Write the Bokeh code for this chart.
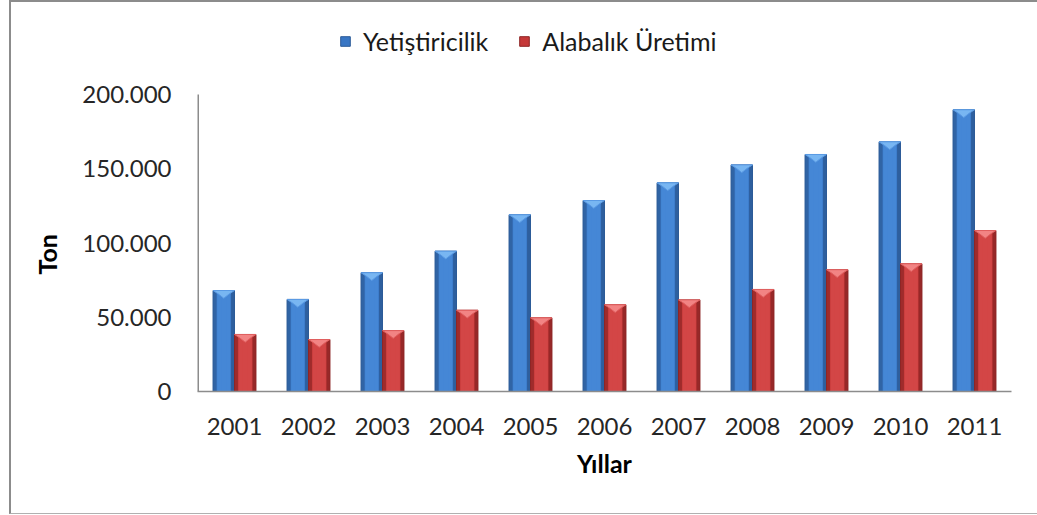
from bokeh.plotting import figure
from bokeh.models import (FactorRange, Range1d, FixedTicker, Legend, LegendItem,
                          ColumnDataSource, Title)
from bokeh.embed import file_html
from bokeh.resources import INLINE

years = ["2001", "2002", "2003", "2004", "2005", "2006", "2007", "2008", "2009", "2010", "2011"]
yetistiricilik = [68000, 62000, 80000, 94500, 119000, 128600, 140500, 152600, 159600, 168100, 189700]
alabalik = [38400, 35000, 41000, 54700, 49600, 58400, 61700, 68700, 82000, 86000, 108400]
y_ticks = [0, 50000, 100000, 150000, 200000]
y_tick_labels = ["0", "50.000", "100.000", "150.000", "200.000"]
series_names = ["Yetiştiricilik", "Alabalık Üretimi"]

FONT = "Lato"

# layout (pixels): the frame extends above the value axis so the legend fits inside it
FRAME_W, FRAME_H, AXIS_H = 814, 385, 297
y_end = y_ticks[-1] * FRAME_H / AXIS_H

p = figure(frame_width=FRAME_W, frame_height=FRAME_H, output_backend="svg", toolbar_location=None,
           x_range=FactorRange(*years, range_padding=0), y_range=Range1d(0, y_end),
           min_border_left=0, min_border_right=26, min_border_top=4, min_border_bottom=122)
p.styles = {"margin-left": "9px", "border-left": "2px solid #8c8c8c",
            "border-top": "2px solid #8c8c8c", "border-bottom": "1px solid #b0b0b0"}
p.outline_line_color = None
p.xgrid.grid_line_color = None
p.ygrid.grid_line_color = None
p.background_fill_color = "white"
p.border_fill_color = "white"

bar_w = 0.29
palettes = [
    dict(edge="#2d5c98", mid="#3876c4", hi="#4587d6", bevel="#78b6f2", bevel2="#5b9be4"),
    dict(edge="#8e2626", mid="#c53838", hi="#d34646", bevel="#f28484", bevel2="#e06060"),
]
bevel_h = 5200

legend_items = []
for k, (vals, pal) in enumerate(zip([yetistiricilik, alabalik], palettes)):
    off = (k - 0.5) * bar_w
    xs_num = [i + 0.5 + off for i in range(len(years))]
    src = ColumnDataSource(dict(x=xs_num, top=vals))
    r = p.vbar(x="x", top="top", width=bar_w, source=src, fill_color=pal["mid"],
               line_color=pal["edge"], line_width=1)
    p.vbar(x="x", top="top", width=bar_w * 0.62, source=src, fill_color=pal["hi"], line_color=None)
    p.vbar(x="x", top="top", width=bar_w * 0.25, source=src, fill_color=pal["hi"], line_color=None, fill_alpha=0.8)
    p.vbar(x=[x - bar_w * 0.42 for x in xs_num], top=vals, width=bar_w * 0.16,
           fill_color=pal["edge"], line_color=None, fill_alpha=0.7)
    p.vbar(x=[x + bar_w * 0.42 for x in xs_num], top=vals, width=bar_w * 0.16,
           fill_color=pal["edge"], line_color=None, fill_alpha=0.85)
    pxs, pys = [], []
    for x, v in zip(xs_num, vals):
        pxs.append([x - bar_w / 2, x + bar_w / 2, x + bar_w * 0.25, x, x - bar_w * 0.25])
        pys.append([v, v, v - bevel_h * 0.45, v - bevel_h, v - bevel_h * 0.45])
    p.patches(pxs, pys, fill_color=pal["bevel"], line_color=pal["bevel2"], line_width=1)
    legend_items.append(LegendItem(label=series_names[k], renderers=[r]))

legend = Legend(items=legend_items, orientation="horizontal", location=(142, 335),
                glyph_width=12, glyph_height=12, label_standoff=12, spacing=30,
                padding=0, margin=0, border_line_color=None, background_fill_alpha=0,
                label_text_font=FONT, label_text_font_size="25px", label_text_color="#1a1a1a")
p.add_layout(legend, "center")

for ax in (p.xaxis[0], p.yaxis[0]):
    ax.axis_line_color = "#8c8c8c"
    ax.axis_line_width = 1.5
    ax.major_tick_line_color = None
    ax.minor_tick_line_color = None
    ax.major_tick_out = 0
    ax.major_tick_in = 0
    ax.major_label_text_font = FONT
    ax.major_label_text_font_size = "24px"
    ax.major_label_text_color = "#262626"
    ax.axis_label_text_font = FONT
    ax.axis_label_text_font_style = "bold"
    ax.axis_label_text_font_size = "25px"
    ax.axis_label_text_color = "#000000"

# value axis: line drawn only over the 0..200.000 span
p.yaxis.axis_line_color = None
p.segment(x0=[0], y0=[y_ticks[0]], x1=[0], y1=[y_ticks[-1]], line_color="#8c8c8c", line_width=3)
p.yaxis.ticker = FixedTicker(ticks=y_ticks)
p.yaxis.major_label_overrides = dict(zip(y_ticks, y_tick_labels))
p.yaxis.major_label_standoff = 26

ton = Title(text="Ton", align="left", offset=117, vertical_align="bottom", standoff=36,
            text_font=FONT, text_font_style="bold", text_font_size="25px", text_color="#000000")
p.add_layout(ton, "left")

p.xaxis.major_label_standoff = 26
p.xaxis.axis_label = "Yıllar"
p.xaxis.axis_label_standoff = 10

open("out.html", "w").write(file_html(p, INLINE))
